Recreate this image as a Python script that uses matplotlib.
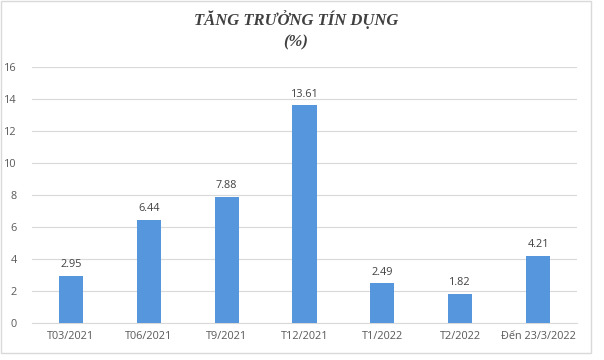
import matplotlib.pyplot as plt
from matplotlib.patches import Rectangle

categories = ['T03/2021', 'T06/2021', 'T9/2021', 'T12/2021', 'T1/2022', 'T2/2022', 'Đến 23/3/2022']
values = [2.95, 6.44, 7.88, 13.61, 2.49, 1.82, 4.21]
yticks = [0, 2, 4, 6, 8, 10, 12, 14, 16]

fig = plt.figure(figsize=(6.04, 3.6), dpi=100)
ax = fig.add_axes([32 / 604, 1 - 323 / 360, 545 / 604, 256 / 360])

x = range(len(categories))
ax.bar(x, values, width=0.31, color='#5596dc', zorder=3)
for xi, v in zip(x, values):
    ax.text(xi, v + 0.35, f'{v:.2f}', ha='center', va='bottom', fontsize=7.8, color='#404040', family='Open Sans')

ax.set_ylim(0, 16)
ax.set_xlim(-0.5, len(categories) - 0.5)
ax.set_yticks(yticks)
ax.set_xticks(list(x))
ax.set_xticklabels(categories)
ax.grid(axis='y', color='#d9d9d9', linewidth=0.8, zorder=0)
for s in ['top', 'right', 'left']:
    ax.spines[s].set_visible(False)
ax.spines['bottom'].set_color('#d9d9d9')
ax.tick_params(length=0, labelsize=7.8, colors='#595959', pad=6)
for lab in ax.get_xticklabels() + ax.get_yticklabels():
    lab.set_family('Open Sans')
ax.tick_params(axis='y', pad=11)

fig.text(296 / 604, 1 - 20 / 360, 'TĂNG TRƯỞNG TÍN DỤNG', ha='center', va='center',
         fontsize=12, fontweight='bold', fontstyle='italic', family='Liberation Serif', color='#404040')
fig.text(296 / 604, 1 - 42 / 360, '(%)', ha='center', va='center',
         fontsize=12, fontweight='bold', fontstyle='italic', family='Liberation Serif', color='#404040')

fig.patches.append(Rectangle((1 / 604, 1 - 353 / 360), 590 / 604, 352 / 360, transform=fig.transFigure,
                             fill=False, edgecolor='#d9d9d9', linewidth=1))

fig.savefig('out.png', dpi=100)
